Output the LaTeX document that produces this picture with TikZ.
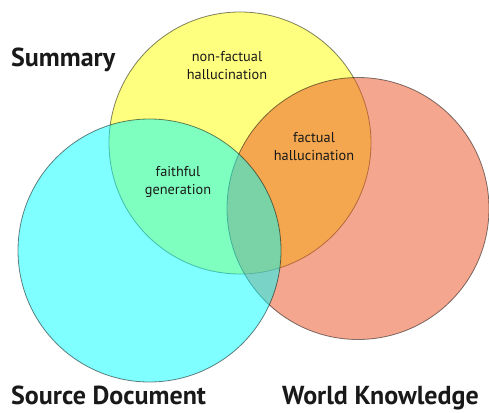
\documentclass[tikz,border=0pt]{standalone}
\usepackage{fontspec}
\setmainfont{PT Sans}
\definecolor{sumcol}{RGB}{255,255,0}
\definecolor{srccol}{RGB}{0,255,255}
\definecolor{wldcol}{RGB}{235,81,31}
\definecolor{txt}{RGB}{25,25,25}
\tikzset{
  venn/.style={circle, draw=black, line width=0.8pt, opacity=0.5,
               minimum size=262pt, inner sep=0pt},
  setlabel/.style={font=\bfseries\fontsize{26}{30}\selectfont, text=txt, inner sep=0pt},
  regionlabel/.style={font=\fontsize{14.3}{18}\selectfont, text=txt, align=center, inner sep=0pt}
}

\begin{document}

\begin{tikzpicture}[x=1pt,y=-1pt]
  \useasboundingbox (0,0) rectangle (489,412);
  \fill[white] (0,0) rectangle (489,412);
  % the three sets, drawn bottom to top
  \node[venn, fill=sumcol] (summary) at (240,143) {};
  \node[venn, fill=wldcol] (world) at (358,208.5) {};
  \node[venn, fill=srccol, minimum size=263pt] (source) at (149.5,250.5) {};
  % set names
  \node[setlabel, anchor=base west] (lsum) at (11,66.5) {Summary};
  \node[setlabel, anchor=base west] (lsrc) at (11,404) {Source Document};
  \node[setlabel, anchor=base west] (lwld) at (282,404) {World Knowledge};
  % region names
  \node[regionlabel] (nonfact) at (227,66) {non-factual\\hallucination};
  \node[regionlabel] (fact) at (314,147) {factual\\hallucination};
  \node[regionlabel] (faith) at (178,182) {faithful\\generation};
\end{tikzpicture}

\end{document}
